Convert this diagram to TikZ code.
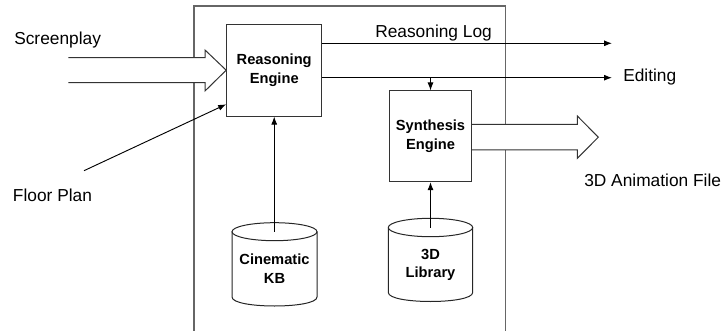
\documentclass[tikz,border=0pt]{standalone}
\usepackage{fontspec}
\setmainfont{Liberation Sans}
\usetikzlibrary{arrows.meta}
\begin{document}
\begin{tikzpicture}[x=0.75pt,y=-0.75pt,
  lbl/.style={font=\fontsize{13}{15.6}\selectfont, inner sep=0},
  btxt/.style={font=\fontsize{11}{13.7}\selectfont\bfseries, align=center, inner sep=0},
  engine/.style={draw=black!80, line width=0.75pt, fill=white, inner sep=0,
    font=\fontsize{11}{13.7}\selectfont\bfseries, align=center},
  frame/.style={draw=black!60, line width=0.9pt},
  fat/.style={draw=black!80, line width=0.75pt, fill=white},
  cyl/.style={draw=black!85, line width=0.75pt},
  arr/.style={-{Latex[length=6pt,width=4.5pt]}, line width=0.7pt},
  plain/.style={line width=0.7pt}]
\useasboundingbox (0,0) rectangle (723,331);
% outer frame
\draw[frame] (194,340) -- (194,6) -- (505.7,6) -- (505.7,340);
% engines
\node[engine, minimum width=71.25pt, minimum height=68.8pt] (re) at (274.2,70.2) {Reasoning\\Engine};
\node[engine, minimum width=61.8pt, minimum height=68pt] (se) at (430.5,136.3) {Synthesis\\Engine};
% hollow arrow: screenplay
\filldraw[fat] (68.3,57.7) -- (205,57.7) -- (205,50) -- (re.west) -- (205,91) -- (205,82.7) -- (68.3,82.7);
% hollow arrow: animation file
\filldraw[fat] (se.east |- 0,124.3) -- (577.3,124.3) -- (577.3,116) -- (598.3,137.2) -- (577.3,158.3) -- (577.3,150) -- (se.east |- 0,150);
% labels
\node[lbl, anchor=base west] (screen) at (14,45) {Screenplay};
\node[lbl, anchor=base west] (floor) at (12.7,201.5) {Floor Plan};
\node[lbl, anchor=base west] (log) at (375,38) {Reasoning Log};
\node[lbl, anchor=base west] (edit) at (623,82) {Editing};
\node[lbl, anchor=base west] (anim) at (584,186) {3D Animation File};
% cylinders
\draw[cyl, fill=white] (232,231.7) -- (232,297) .. controls (232,309) and (317,309) .. (317,297) -- (317,231.7);
\draw[cyl] (274.5,231.7) ellipse [x radius=42.5, y radius=9];
\node[btxt] (ckb) at (274.5,268.6) {Cinematic\\KB};
\coordinate (ckbtop) at (274.2,231.7);
\draw[cyl, fill=white] (388.3,227.5) -- (388.3,292.5) .. controls (388.3,304.5) and (472.7,304.5) .. (472.7,292.5) -- (472.7,227.5);
\draw[cyl] (430.5,227.5) ellipse [x radius=42.2, y radius=9.2];
\node[btxt] (lib) at (430.5,265) {3D\\Library};
\coordinate (libtop) at (430.5,227.5);
% connectors
\coordinate (logend) at (612,43.3);
\coordinate (editend) at (612,77.7);
\coordinate (split) at (430.5,77.7);
\coordinate (fpstart) at (84,170.7);
\coordinate (fpend) at (226.2,104.3);
\draw[arr] (re.east |- logend) -- (logend);
\draw[arr] (re.east |- editend) -- (editend);
\draw[arr] (split) -- (se.north);
\draw[arr] (fpstart) -- (fpend);
\draw[arr] (ckbtop) -- (re.south);
\draw[arr] (libtop) -- (se.south);
\end{tikzpicture}
\end{document}
